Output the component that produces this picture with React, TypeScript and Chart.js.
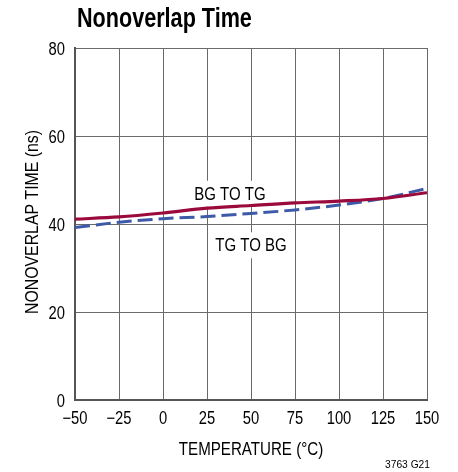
import React, { useEffect, useRef } from "react";
import { Chart, registerables } from "chart.js";

Chart.register(...registerables);

const temperatures = [-50, -25, 0, 25, 50, 75, 100, 125, 150];
const bgToTg = [41.1, 41.6, 42.5, 43.6, 44.2, 44.8, 45.2, 45.8, 47.1];
const tgToBg = [39.2, 40.4, 41.2, 41.7, 42.4, 43.2, 44.3, 45.8, 48.1];
const xTicks = [-50, -25, 0, 25, 50, 75, 100, 125, 150];
const yTicks = [0, 20, 40, 60, 80];
const titleText = "Nonoverlap Time";
const xTitle = "TEMPERATURE (\u00B0C)";
const yTitle = "NONOVERLAP TIME (ns)";
const note = "3763 G21";
const annotations = [
  { text: "BG TO TG", x: 38, y: 45.5 },
  { text: "TG TO BG", x: 50, y: 33.8 },
];

const FONT = "'Liberation Sans', Arial, sans-serif";

function drawText(
  ctx: CanvasRenderingContext2D,
  text: string,
  x: number,
  y: number,
  size: number,
  sx: number,
  align: CanvasTextAlign,
  bold = false
) {
  ctx.save();
  ctx.translate(x, y);
  ctx.scale(sx, 1);
  ctx.font = `${bold ? "bold " : ""}${size}px ${FONT}`;
  ctx.textAlign = align;
  ctx.textBaseline = "alphabetic";
  ctx.fillStyle = "#000";
  ctx.fillText(text, 0, 0);
  ctx.restore();
}

const textPlugin = {
  id: "textPlugin",
  beforeDatasetsDraw(chart: any) {
    const ctx = chart.ctx;
    const xs = chart.scales.x;
    const ys = chart.scales.y;
    ctx.save();
    ctx.font = `19px ${FONT}`;
    annotations.forEach((a) => {
      const w = ctx.measureText(a.text).width * 0.79;
      const cx = xs.getPixelForValue(a.x);
      const by = ys.getPixelForValue(a.y);
      ctx.fillStyle = "#fff";
      ctx.fillRect(cx - w / 2 - 4, by - 19, w + 8, 26);
    });
    ctx.restore();
  },
  afterDraw(chart: any) {
    const ctx = chart.ctx;
    const xs = chart.scales.x;
    const ys = chart.scales.y;
    drawText(ctx, titleText, 77, 27, 27, 0.8, "left", true);
    xTicks.forEach((v) => {
      drawText(ctx, String(v).replace("-", "\u2212"), xs.getPixelForValue(v), 424, 18, 0.82, "center");
    });
    yTicks.forEach((v) => {
      drawText(ctx, String(v), 65, ys.getPixelForValue(v) + 6.5, 18, 0.82, "right");
    });
    drawText(ctx, xTitle, (xs.left + xs.right) / 2, 455, 18, 0.84, "center");
    ctx.save();
    ctx.translate(38, 222);
    ctx.rotate(-Math.PI / 2);
    drawText(ctx, yTitle, 0, 0, 18, 0.88, "center");
    ctx.restore();
    annotations.forEach((a) => {
      drawText(ctx, a.text, xs.getPixelForValue(a.x), ys.getPixelForValue(a.y), 19, 0.79, "center");
    });
    drawText(ctx, note, 407.5, 468, 11.5, 0.89, "center");
  },
};

export default function App() {
  const ref = useRef<HTMLCanvasElement | null>(null);
  useEffect(() => {
    if (!ref.current) return;
    const chart = new Chart(ref.current, {
      type: "line",
      data: {
        datasets: [
          {
            label: "BG TO TG",
            data: temperatures.map((t, i) => ({ x: t, y: bgToTg[i] })),
            borderColor: "#9b0a3c",
            borderWidth: 3.2,
            pointRadius: 0,
            cubicInterpolationMode: "monotone",
          },
          {
            label: "TG TO BG",
            data: temperatures.map((t, i) => ({ x: t, y: tgToBg[i] })),
            borderColor: "#3d5aa8",
            borderWidth: 3,
            borderDash: [15, 6],
            pointRadius: 0,
            cubicInterpolationMode: "monotone",
          },
        ],
      },
      plugins: [textPlugin],
      options: {
        animation: false,
        responsive: false,
        devicePixelRatio: 1,
        layout: { padding: { top: 48, left: 0, right: 31, bottom: 0 } },
        plugins: { legend: { display: false }, tooltip: { enabled: false }, title: { display: false } },
        scales: {
          x: {
            type: "linear",
            min: -50,
            max: 150,
            afterBuildTicks(axis: any) {
              axis.ticks = xTicks.map((v) => ({ value: v }));
            },
            afterFit(axis: any) {
              axis.height = 72;
            },
            grid: { color: "#6a6a6a", lineWidth: 1, drawTicks: false },
            border: { color: "#555", width: 2 },
            ticks: { display: false },
          },
          y: {
            type: "linear",
            min: 0,
            max: 80,
            afterBuildTicks(axis: any) {
              axis.ticks = yTicks.map((v) => ({ value: v }));
            },
            afterFit(axis: any) {
              axis.width = 75;
            },
            grid: { color: "#6a6a6a", lineWidth: 1, drawTicks: false },
            border: { color: "#555", width: 2 },
            ticks: { display: false },
          },
        },
      },
    } as any);
    return () => chart.destroy();
  }, []);
  return (
    <div style={{ position: "absolute", left: 0, top: 0, width: 458, height: 472, background: "#fff" }}>
      <canvas ref={ref} width={458} height={472} style={{ width: 458, height: 472 }} />
    </div>
  );
}
